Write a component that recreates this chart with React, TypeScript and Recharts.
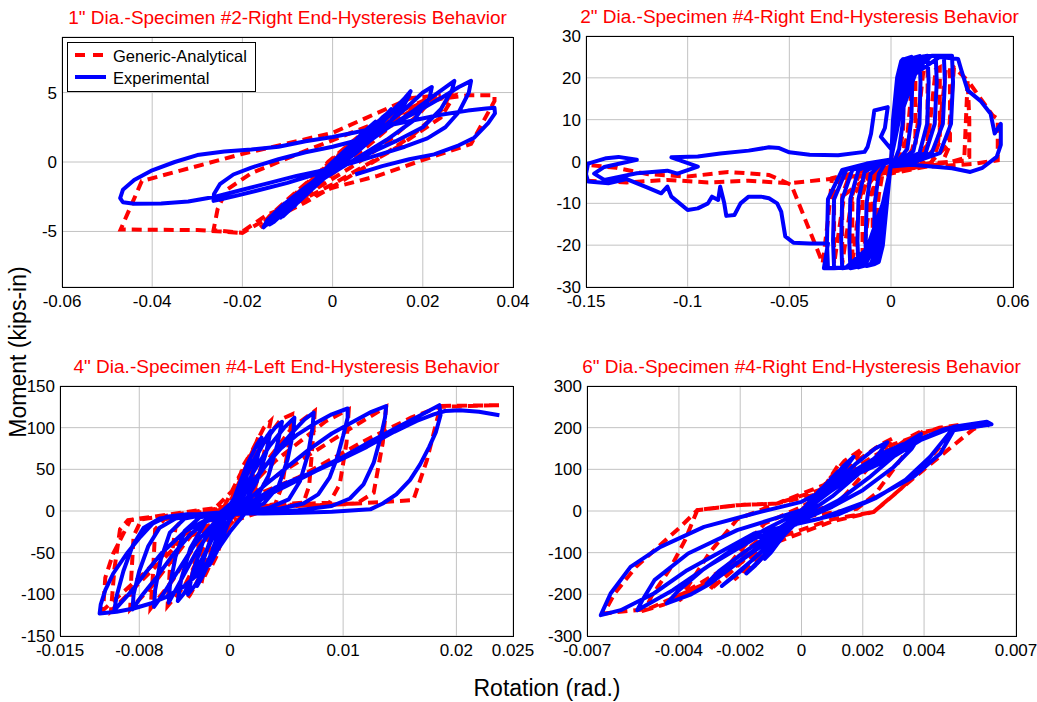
import React from 'react';
import { LineChart, Line, XAxis, YAxis, CartesianGrid } from 'recharts';

type Pt = [number, number];

// 1" dia. - specimen #2 - right end
const p1XTicks = [-0.06, -0.04, -0.02, 0, 0.02, 0.04];
const p1YTicks = [-5, 0, 5];
const p1Analytical: Pt[] = [
  [0, 0], [0.003, 1.0], [0.005, 1.6], [0.004, 1.0], [0.001, -0.2], [-0.002, -1.0], [-0.005, -1.9], [-0.004, -1.2], [-0.001, 0.0],
  [0.003, 1.1], [0.006, 1.9], [0.008, 2.4], [0.007, 1.7], [0.003, 0.4], [-0.002, -1.0], [-0.006, -2.2], [-0.008, -2.8], [-0.007, -2.0], [-0.003, -0.8],
  [0.002, 0.8], [0.007, 2.1], [0.011, 3.0], [0.0095, 2.2], [0.005, 0.9], [-0.001, -0.8], [-0.007, -2.5], [-0.010, -3.3], [-0.009, -2.5], [-0.004, -1.0],
  [0.003, 1.0], [0.009, 2.5], [0.014, 3.5], [0.016, 3.9], [0.014, 2.9], [0.008, 1.2], [0.001, -0.6], [-0.006, -2.3], [-0.011, -3.7], [-0.013, -4.2], [-0.011, -3.2], [-0.006, -1.7],
  [0.002, 0.4], [0.010, 2.4], [0.016, 3.7], [0.020, 4.3], [0.022, 4.5], [0.019, 3.4], [0.012, 1.4], [0.004, -0.4], [-0.004, -2.0], [-0.011, -3.6], [-0.015, -4.6], [-0.0135, -3.8], [-0.009, -2.5], [-0.002, -0.8],
  [0.006, 1.2], [0.014, 3.0], [0.021, 4.3], [0.026, 4.8], [0.024, 3.7], [0.018, 2.0], [0.010, 0.2], [0.002, -1.4], [-0.006, -2.9], [-0.012, -3.9], [-0.016, -4.7], [-0.014, -3.9], [-0.010, -2.7], [-0.004, -1.0],
  [0.004, 0.8], [0.012, 2.6], [0.020, 4.2], [0.027, 4.8], [0.024, 3.2], [0.014, 1.0], [0.000, -1.6], [-0.012, -3.6], [-0.020, -5.1], [-0.0264, -4.9],
  [-0.0255, -3.4], [-0.0235, -2.0], [-0.018, -0.8], [-0.006, 0.8], [0.008, 2.6], [0.020, 4.4], [0.030, 4.8], [0.0359, 4.8],
  [0.0359, 4.4], [0.0307, 1.3], [0.0196, 0.1], [0.010, -1.0], [0.000, -1.85], [-0.0145, -3.8], [-0.0204, -5.1], [-0.030, -4.9], [-0.047, -4.86],
  [-0.0423, -1.37], [-0.0204, 0.55], [0.000, 2.1], [0.0173, 4.6], [0.024, 4.8],
];
const p1Experimental: Pt[] = [
  [0, 0], [0.002, 0.6], [0.004, 1.2], [0.005, 1.5], [0.004, 0.9], [0.001, -0.2], [-0.002, -1.0], [-0.004, -1.7], [-0.005, -2.0], [-0.004, -1.5], [-0.001, -0.5],
  [0.002, 0.5], [0.004, 1.1], [0.0055, 1.6], [0.0045, 1.0], [0.001, -0.1], [-0.002, -1.1], [-0.0045, -1.8], [-0.0055, -2.1], [-0.004, -1.4], [-0.001, -0.4],
  [0.003, 0.8], [0.006, 1.7], [0.008, 2.4], [0.009, 2.7], [0.008, 2.0], [0.005, 0.9], [0.001, -0.3], [-0.003, -1.4], [-0.006, -2.3], [-0.008, -3.0], [-0.0085, -3.2], [-0.007, -2.4], [-0.004, -1.3], [0, 0.0],
  [0.004, 1.2], [0.007, 2.2], [0.0095, 2.9], [0.0085, 2.2], [0.005, 1.0], [0.001, -0.4], [-0.003, -1.5], [-0.007, -2.7], [-0.009, -3.3], [-0.0075, -2.6], [-0.004, -1.4], [0, -0.1],
  [0.004, 1.0], [0.008, 2.2], [0.011, 3.2], [0.0125, 3.6], [0.011, 2.8], [0.007, 1.4], [0.003, 0.2], [-0.002, -1.1], [-0.006, -2.3], [-0.009, -3.3], [-0.011, -3.9], [-0.010, -3.3], [-0.007, -2.3], [-0.003, -1.0],
  [0.002, 0.4], [0.007, 1.9], [0.011, 3.1], [0.013, 3.8], [0.0115, 3.0], [0.008, 1.6], [0.003, 0.1], [-0.003, -1.4], [-0.008, -3.0], [-0.0115, -4.0], [-0.010, -3.2], [-0.006, -2.0], [-0.002, -0.8],
  [0.004, 0.8], [0.009, 2.3], [0.013, 3.6], [0.016, 4.6], [0.0173, 5.1], [0.016, 4.2], [0.012, 2.6], [0.007, 1.2], [0.002, -0.1], [-0.004, -1.6], [-0.009, -3.1], [-0.013, -4.3], [-0.014, -4.5], [-0.012, -3.8], [-0.008, -2.5], [-0.003, -1.0],
  [0.003, 0.6], [0.009, 2.2], [0.014, 3.8], [0.017, 4.8], [0.0155, 3.9], [0.011, 2.3], [0.005, 0.6], [-0.002, -1.1], [-0.008, -2.9], [-0.0135, -4.4], [-0.0125, -3.9], [-0.008, -2.6], [-0.003, -1.1],
  [0.004, 0.6], [0.010, 2.2], [0.016, 3.8], [0.020, 5.0], [0.022, 5.4], [0.0215, 4.6], [0.018, 3.0], [0.012, 1.6], [0.006, 0.4], [0.000, -0.8], [-0.006, -2.0], [-0.011, -3.3], [-0.014, -4.3], [-0.0153, -4.7], [-0.0145, -4.2], [-0.011, -3.1], [-0.006, -1.8], [0, -0.4],
  [0.006, 1.0], [0.012, 2.4], [0.018, 3.7], [0.023, 4.9], [0.026, 5.6], [0.027, 5.84], [0.0265, 5.2], [0.024, 3.8], [0.020, 2.5], [0.014, 1.5], [0.008, 0.6], [0.002, -0.3], [-0.004, -0.9], [-0.010, -1.5],
  [-0.016, -2.0], [-0.021, -2.4], [-0.025, -2.7], [-0.0264, -2.8], [-0.0263, -2.3], [-0.025, -1.6], [-0.022, -0.9], [-0.018, -0.4], [-0.012, 0.2], [-0.006, 0.7], [0.000, 1.1],
  [0.006, 1.6], [0.012, 2.5], [0.018, 3.5], [0.024, 4.6], [0.028, 5.4], [0.0307, 5.84], [0.0302, 5.0], [0.028, 3.6], [0.025, 2.5], [0.021, 1.7], [0.016, 1.1], [0.010, 0.5], [0.004, -0.1], [-0.002, -0.6],
  [-0.008, -1.0], [-0.014, -1.5], [-0.020, -2.0], [-0.026, -2.5], [-0.032, -2.85], [-0.038, -2.98], [-0.044, -3.0], [-0.0465, -2.9], [-0.0471, -2.6], [-0.0465, -2.0], [-0.044, -1.3], [-0.040, -0.6],
  [-0.035, 0.0], [-0.030, 0.5], [-0.024, 0.75], [-0.018, 0.9], [-0.012, 1.1], [-0.006, 1.5],
  [0.000, 1.8], [0.006, 2.2], [0.012, 2.6], [0.018, 3.0], [0.024, 3.4], [0.030, 3.7], [0.034, 3.85], [0.0359, 3.9], [0.036, 3.5], [0.0345, 2.8], [0.0314, 1.75], [0.028, 1.2], [0.0225, 0.55],
  [0.017, 0.2], [0.011, -0.3], [0.005, -0.9],
];

// 2" dia. - specimen #4 - right end
const p2XTicks = [-0.15, -0.1, -0.05, 0, 0.06];
const p2YTicks = [-30, -20, -10, 0, 10, 20, 30];
const p2Analytical: Pt[] = [
  [0, 0], [0.002, 8], [0.004, 18], [0.006, 22], [0.006, 8], [0.004, 0.5], [-0.004, -2.5], [-0.006, -8], [-0.009, -23], [-0.009, -8], [-0.006, -2],
  [0.004, -0.5], [0.008, 6], [0.011, 22], [0.012, 22.5], [0.012, 6], [0.009, 0], [-0.006, -3], [-0.010, -8], [-0.014, -24], [-0.014, -8], [-0.011, -3],
  [0.006, -0.5], [0.012, 4], [0.016, 22], [0.018, 22.5], [0.018, 5], [0.014, 0], [-0.008, -3.5], [-0.015, -8], [-0.019, -24.5], [-0.019, -8], [-0.016, -3.5],
  [0.010, -0.8], [0.018, 4], [0.022, 22], [0.024, 22.5], [0.024, 5], [0.020, -0.3], [-0.010, -3.5], [-0.019, -8], [-0.024, -24.5], [-0.024, -8], [-0.021, -4],
  [0.014, -1], [0.023, 4], [0.027, 22], [0.029, 22.5], [0.029, 4], [0.025, -0.5], [-0.012, -4], [-0.023, -8], [-0.028, -24.5], [-0.028, -8], [-0.025, -4],
  [0.018, -1], [0.028, 4], [0.031, 22.5], [0.0377, 19.4], [0.0385, 10], [0.0385, 1.1], [0.030, 0], [0.012, -1.5], [-0.012, -3.5], [-0.030, -4.2],
  [-0.050, -5.2], [-0.070, -4.6], [-0.090, -5.0], [-0.110, -4.4], [-0.130, -5.0], [-0.150, -4.6], [-0.150, -0.8], [-0.135, -1.5], [-0.120, -3.0],
  [-0.100, -3.6], [-0.080, -2.5], [-0.060, -3.2], [-0.049, -5.6],
  [-0.0336, -24.3], [-0.031, -14], [-0.029, -4], [-0.010, -1.8], [0.020, -0.4], [0.036, 0.2], [0.0377, 19.4], [0.050, 11], [0.0525, 10.2], [0.0525, 0.3], [0.040, -0.6], [0.020, -1.2],
];
const p2Experimental: Pt[] = [
  [0, 0], [0.001, 10], [0.003, 20], [0.005, 24], [0.006, 24.5], [0.0065, 20], [0.006, 10], [0.004, 3], [0.002, 0.5], [0, 0], [-0.002, -10], [-0.004, -20], [-0.006, -24], [-0.008, -24.5],
  [-0.0085, -20], [-0.008, -10], [-0.006, -3], [-0.003, -0.5],
  [0, 0], [0.001, 9], [0.003, 19], [0.007, 24.5], [0.010, 25], [0.0105, 20], [0.010, 10], [0.008, 3], [0.004, 0.5], [0, 0], [-0.002, -9], [-0.004, -19], [-0.008, -24.5], [-0.012, -25],
  [-0.0125, -20], [-0.012, -10], [-0.010, -3], [-0.005, -0.5],
  [0, 0], [0.0015, 10], [0.004, 20], [0.009, 24.5], [0.014, 25.2], [0.0145, 19], [0.014, 9], [0.011, 2.5], [0.005, 0.5], [0, -0.5], [-0.002, -9], [-0.005, -19], [-0.010, -24.5], [-0.016, -25.3],
  [-0.0165, -19], [-0.016, -9], [-0.013, -2.5], [-0.006, -0.5],
  [0, 0.5], [0.002, 10], [0.005, 20], [0.012, 24.8], [0.018, 25.3], [0.0185, 19], [0.0178, 9], [0.014, 2], [0.007, 0.5], [0, -0.5], [-0.003, -9], [-0.006, -19], [-0.013, -24.8], [-0.020, -25.5],
  [-0.0205, -19], [-0.020, -9], [-0.016, -2], [-0.008, -0.5],
  [0, 0.5], [0.002, 10], [0.006, 20], [0.014, 25], [0.022, 25.3], [0.0225, 19], [0.0215, 9], [0.017, 2], [0.008, 0.3], [0, -0.5], [-0.003, -9], [-0.007, -19], [-0.015, -25], [-0.024, -25.5],
  [-0.0245, -19], [-0.024, -9], [-0.019, -2], [-0.009, -0.5],
  [0, 0.5], [0.003, 10], [0.008, 20], [0.017, 25.2], [0.026, 25.3], [0.0265, 19], [0.0255, 9], [0.020, 2], [0.010, 0], [0, -0.8], [-0.003, -9], [-0.008, -19], [-0.018, -25.2], [-0.028, -25.5],
  [-0.0285, -19], [-0.028, -9], [-0.022, -2], [-0.010, -0.5],
  [0, 0.5], [0.003, 10], [0.010, 21], [0.020, 25.3], [0.030, 25.3], [0.0305, 19], [0.0295, 9], [0.024, 2], [0.012, 0], [0, -1], [-0.004, -10], [-0.010, -20], [-0.020, -25.3], [-0.031, -25.5],
  [-0.0315, -19], [-0.031, -9], [-0.024, -2], [-0.012, -0.5],
  [0, 0.5], [0.004, 10], [0.012, 21], [0.024, 25], [0.033, 24.5], [0.0345, 22], [0.0377, 17], [0.044, 14.5], [0.049, 11.4], [0.051, 6.7], [0.054, 9], [0.054, 4], [0.052, 1.1],
  [0.045, -1.5], [0.039, -2.5], [0.030, -1.6], [0.023, -1.3], [0.010, -0.8], [0.000, -1.2],
  [-0.004, -10], [-0.012, -21], [-0.022, -25.3], [-0.033, -25.5], [-0.031, -19.6], [-0.040, -19.6], [-0.048, -19.4], [-0.052, -17.9], [-0.054, -12], [-0.056, -10],
  [-0.060, -8.8], [-0.064, -8.4], [-0.070, -8.4], [-0.074, -10], [-0.077, -12.8], [-0.081, -13], [-0.082, -10], [-0.084, -6], [-0.085, -9.2], [-0.088, -8.4],
  [-0.090, -10], [-0.095, -11.2], [-0.100, -11.6], [-0.105, -9.6], [-0.108, -8.4], [-0.110, -6], [-0.113, -7.6], [-0.120, -6.2], [-0.130, -4.2], [-0.139, -5.2],
  [-0.149, -4.8], [-0.150, -3], [-0.149, -0.5], [-0.140, 0.8], [-0.134, 1.1], [-0.125, 0.4], [-0.141, -1.3], [-0.146, -2.9], [-0.141, -4.4], [-0.125, -2.8],
  [-0.110, -2.2], [-0.105, -2.9], [-0.095, -1.2], [-0.108, 1.0], [-0.095, 1.2], [-0.084, 1.9], [-0.070, 2.6], [-0.060, 3.4], [-0.055, 3.2], [-0.050, 2.2],
  [-0.040, 1.6], [-0.026, 1.5], [-0.013, 2.3], [-0.0115, 3.5], [-0.0098, 6.7], [-0.0082, 12.2], [-0.0016, 13], [-0.003, 8], [-0.005, 5.9], [0.000, 3],
  [0.002, 10], [0.004, 20],
];

// 4" dia. - specimen #4 - left end
const p3XTicks = [-0.015, -0.008, 0, 0.01, 0.02, 0.025];
const p3YTicks = [-150, -100, -50, 0, 50, 100, 150];
const p3Analytical: Pt[] = [
  [0, 0], [0.0006, 30], [0.0012, 55], [0.0016, 64], [0.0010, 30], [0.0004, 2], [-0.0006, -30], [-0.0012, -55], [-0.0016, -66], [-0.0010, -30], [-0.0004, -2],
  [0.001, 40], [0.002, 72], [0.0025, 88], [0.0018, 40], [0.0008, 2], [-0.001, -40], [-0.002, -72], [-0.0025, -86], [-0.0018, -40], [-0.0008, -3],
  [0.0015, 60], [0.003, 100], [0.0036, 108], [0.0028, 55], [0.0018, 8], [-0.001, -30], [-0.0025, -75], [-0.0035, -100], [-0.0038, -106], [-0.0030, -55], [-0.0020, -6],
  [0.001, 35], [0.003, 82], [0.0045, 110], [0.0055, 116], [0.0052, 80], [0.0046, 30], [0.0040, 8], [0.000, 2], [-0.002, -35], [-0.004, -90], [-0.0055, -114],
  [-0.0053, -70], [-0.0048, -20], [-0.0040, -8], [0, 4],
  [0.003, 55], [0.0055, 100], [0.0075, 120], [0.0073, 80], [0.0070, 30], [0.0065, 10], [0.002, 5], [-0.002, -18], [-0.005, -82], [-0.0070, -117], [-0.0068, -78],
  [-0.0066, -22], [-0.0058, -10], [0, 5],
  [0.004, 60], [0.0085, 108], [0.0105, 122], [0.0103, 82], [0.0097, 32], [0.0088, 10], [0.003, 6], [-0.003, -22], [-0.007, -92], [-0.0088, -118], [-0.0087, -78],
  [-0.0085, -30], [-0.0078, -10], [0, 5],
  [0.005, 50], [0.011, 102], [0.0138, 125], [0.0135, 82], [0.0127, 22], [0.0112, 9], [0.004, 5], [-0.004, -32], [-0.009, -100], [-0.0105, -120], [-0.0102, -70],
  [-0.0097, -22], [-0.0090, -11], [0, 6],
  [0.006, 40], [0.012, 85], [0.016, 112], [0.0185, 125], [0.0238, 127], [0.0186, 126], [0.0174, 61], [0.0162, 13], [0.010, 8], [0.004, 6], [0, 0],
  [-0.004, -28], [-0.0080, -80], [-0.0112, -119], [-0.0110, -80], [-0.0103, -51], [-0.0088, -11], [-0.005, -5], [0, 2],
];
const p3Experimental: Pt[] = [
  [0, 0], [0.0005, 20], [0.001, 38], [0.0015, 55], [0.0018, 62], [0.0014, 40], [0.0008, 15], [0, -10], [-0.0006, -30], [-0.0012, -50], [-0.0018, -65], [-0.0015, -45], [-0.0008, -20], [0, 2],
  [0.0008, 30], [0.0016, 58], [0.0024, 80], [0.0028, 88], [0.0024, 62], [0.0016, 28], [0.0006, 2], [-0.0006, -25], [-0.0016, -55], [-0.0024, -78], [-0.0029, -90], [-0.0025, -65], [-0.0016, -30], [-0.0006, -5],
  [0.001, 28], [0.002, 58], [0.003, 84], [0.0036, 96], [0.0032, 70], [0.0024, 36], [0.0012, 8], [0, -10], [-0.001, -32], [-0.002, -62], [-0.003, -88], [-0.0037, -100], [-0.0033, -75], [-0.0024, -38], [-0.0012, -10], [0, 0],
  [0.0015, 45], [0.003, 82], [0.004, 100], [0.0046, 107], [0.0042, 80], [0.0034, 42], [0.0022, 12], [0.001, 0], [-0.0005, -10], [-0.0015, -32], [-0.003, -72], [-0.004, -98], [-0.0046, -108],
  [-0.0043, -82], [-0.0035, -45], [-0.0022, -14], [-0.001, -4],
  [0.001, 20], [0.002, 45], [0.0035, 78], [0.0048, 100], [0.0057, 112], [0.0056, 95], [0.0051, 62], [0.0043, 30], [0.003, 9], [0.0015, 0], [0, -4], [-0.0015, -20], [-0.003, -50], [-0.0044, -85],
  [-0.0054, -110], [-0.0053, -90], [-0.0048, -55], [-0.0040, -24], [-0.0027, -8], [-0.001, -3],
  [0.001, 15], [0.0025, 42], [0.004, 70], [0.0055, 94], [0.0066, 110], [0.0074, 118], [0.0073, 100], [0.0069, 68], [0.0062, 36], [0.0052, 14], [0.0035, 4], [0.0015, -1], [0, -5],
  [-0.0015, -16], [-0.003, -38], [-0.0045, -70], [-0.0058, -98], [-0.0067, -115], [-0.0066, -95], [-0.0061, -58], [-0.0053, -26], [-0.0040, -9], [-0.002, -4], [0, -2],
  [0.001, 15], [0.002, 35], [0.003, 52], [0.0045, 75], [0.006, 92], [0.0075, 105], [0.009, 116], [0.0104, 123], [0.0104, 112], [0.0100, 90], [0.0095, 65], [0.0088, 40], [0.0078, 20],
  [0.0065, 9], [0.0045, 3], [0.002, -1], [0, -4], [-0.002, -12], [-0.0035, -28], [-0.005, -52], [-0.0065, -80], [-0.0078, -102], [-0.0086, -118], [-0.0085, -100], [-0.0080, -72],
  [-0.0072, -42], [-0.0062, -20], [-0.0048, -9], [-0.0025, -4], [0, -1],
  [0.0015, 12], [0.003, 30], [0.005, 52], [0.007, 74], [0.009, 93], [0.011, 108], [0.0125, 119], [0.0138, 126], [0.0137, 112], [0.0133, 88], [0.0127, 58], [0.0118, 32], [0.0106, 15],
  [0.009, 6], [0.006, 1], [0.003, -2], [0, -4], [-0.002, -10], [-0.004, -25], [-0.006, -50], [-0.0075, -75], [-0.0088, -98], [-0.0098, -113], [-0.0102, -119], [-0.0100, -102],
  [-0.0094, -72], [-0.0086, -42], [-0.0076, -20], [-0.0062, -9], [-0.004, -5], [-0.002, -3], [0, -1],
  [0.002, 12], [0.004, 28], [0.007, 45], [0.010, 65], [0.0125, 84], [0.015, 102], [0.017, 116], [0.0185, 127], [0.0186, 115], [0.0182, 95], [0.0176, 77], [0.0168, 56], [0.0159, 37],
  [0.0147, 20], [0.0135, 9], [0.0124, 2], [0.009, -1], [0.0062, -2], [0.003, -3], [0, -3], [-0.0038, -4], [-0.0056, -7], [-0.0068, -15], [-0.0079, -31], [-0.0091, -51],
  [-0.0103, -75], [-0.0110, -95], [-0.0114, -112], [-0.0115, -123], [-0.010, -121], [-0.0085, -117], [-0.007, -111], [-0.0056, -103], [-0.0041, -91], [-0.003, -78],
  [-0.002, -62], [-0.001, -45], [0, -25], [0.0015, 0], [0.0032, 18], [0.005, 30], [0.0076, 48], [0.010, 63], [0.0121, 77], [0.0145, 95], [0.0165, 108], [0.018, 116],
  [0.019, 120], [0.0203, 121], [0.022, 119], [0.0238, 115],
];

// 6" dia. - specimen #4 - right end
const p4XTicks = [-0.007, -0.004, -0.002, 0, 0.002, 0.004, 0.007];
const p4YTicks = [-300, -200, -100, 0, 100, 200, 300];
const p4Analytical: Pt[] = [
  [0, 0], [0.0004, 30], [0.0007, 55], [0.0005, 30], [0, -8], [-0.0004, -35], [-0.0007, -60], [-0.0005, -35], [0, 0],
  [0.0006, 45], [0.0010, 80], [0.0007, 45], [0, -15], [-0.0006, -60], [-0.0010, -95], [-0.0007, -60], [0, 0],
  [0.0008, 65], [0.0012, 110], [0.0010, 80], [0.0004, 20], [-0.0005, -40], [-0.0012, -105], [-0.0015, -130], [-0.0011, -95], [-0.0004, -30],
  [0.0006, 50], [0.0014, 120], [0.0020, 150], [0.0017, 120], [0.0009, 50], [0, -10], [-0.0010, -75], [-0.0018, -140], [-0.0022, -165], [-0.0017, -125], [-0.0008, -60],
  [0.0004, 30], [0.0016, 110], [0.0026, 160], [0.0030, 175], [0.0026, 140], [0.0018, 70], [0.0012, 20], [0.0002, -5], [-0.0010, -55], [-0.0022, -140],
  [-0.0030, -190], [-0.0027, -160], [-0.0020, -95], [-0.0012, -30],
  [0.0000, 10], [0.0012, 60], [0.0026, 130], [0.0036, 180], [0.0040, 195], [0.0036, 160], [0.0030, 100], [0.0024, 40], [0.0018, 5], [0.0000, -15],
  [-0.0014, -70], [-0.0030, -165], [-0.0040, -215], [-0.0037, -180], [-0.0030, -100], [-0.0021, -20], [-0.0008, 18],
  [0.0010, 70], [0.0030, 160], [0.0045, 200], [0.0050, 205], [0.0047, 170], [0.0040, 110], [0.0032, 50], [0.00236, -2], [0.0010, -20], [-0.0010, -70],
  [-0.0030, -160], [-0.0045, -225], [-0.0051, -238], [-0.0049, -205], [-0.0043, -140], [-0.0038, -70], [-0.0034, 2], [-0.0021, 14], [-0.0008, 18],
  [0.0010, 60], [0.0028, 145], [0.0040, 190], [0.0050, 203], [0.0059, 206], [0.0056, 196], [0.0050, 160], [0.0040, 100], [0.0028, 26], [0.00236, -2],
  [0.0010, -25], [-0.0010, -80], [-0.0030, -170], [-0.0050, -235], [-0.00645, -246], [-0.0061, -198], [-0.0054, -134], [-0.00395, -38], [-0.0034, 2],
  [-0.0021, 14], [-0.0008, 18], [0.0005, 40],
];
const p4Experimental: Pt[] = [
  [0, 0], [0.0003, 25], [0.0006, 50], [0.0008, 62], [0.0005, 35], [0, -5], [-0.0004, -40], [-0.0007, -65], [-0.0009, -78], [-0.0006, -50], [0, -5],
  [0.0005, 40], [0.0010, 80], [0.0012, 95], [0.0008, 55], [0, -10], [-0.0006, -60], [-0.0010, -100], [-0.0012, -115], [-0.0008, -80], [0, -5],
  [0.0008, 60], [0.0014, 110], [0.0017, 130], [0.0014, 100], [0.0008, 45], [0, -15], [-0.0008, -75], [-0.0015, -130], [-0.0018, -150], [-0.0014, -120], [-0.0006, -60], [0, -10],
  [0.0010, 60], [0.0018, 115], [0.0024, 150], [0.0028, 165], [0.0025, 135], [0.0018, 85], [0.0010, 35], [0, -15], [-0.0010, -75], [-0.0020, -145], [-0.0026, -180],
  [-0.0022, -155], [-0.0014, -105], [-0.0006, -55], [0, -15],
  [0.0008, 50], [0.0018, 100], [0.0027, 140], [0.0033, 160], [0.0030, 130], [0.0022, 80], [0.0012, 25], [0, -20], [-0.0012, -75], [-0.0022, -130], [-0.0031, -175],
  [-0.0027, -145], [-0.0018, -95], [-0.0008, -45], [0, -5],
  [0.0010, 50], [0.0020, 100], [0.0030, 145], [0.0036, 172], [0.0039, 185], [0.0036, 150], [0.0030, 105], [0.0020, 50], [0.0010, 10], [0, -22], [-0.0010, -68],
  [-0.0020, -120], [-0.0030, -175], [-0.0036, -200], [-0.0044, -222], [-0.0040, -190], [-0.0032, -140], [-0.0022, -90], [-0.0012, -45], [0, 0],
  [0.0012, 60], [0.0024, 115], [0.0036, 165], [0.0046, 195], [0.0050, 202], [0.0048, 185], [0.0042, 130], [0.0034, 75], [0.0024, 30], [0.0012, -8], [0, -28],
  [-0.0015, -65], [-0.0030, -130], [-0.0042, -190], [-0.00536, -238], [-0.0052, -215], [-0.0048, -166], [-0.0037, -102], [-0.0021, -46], [0, 2],
  [0.00116, 66], [0.0028, 122], [0.00388, 170], [0.00497, 202], [0.00605, 214], [0.0062, 208], [0.00497, 194], [0.00453, 138], [0.00366, 82], [0.00225, 26],
  [0.00062, -18], [-0.00155, -54], [-0.00373, -142], [-0.00482, -198], [-0.0059, -238], [-0.00655, -250], [-0.00623, -198], [-0.00558, -134], [-0.0046, -86],
  [-0.00318, -38], [-0.00155, -6], [0, 22], [0.00116, 66], [0.0028, 122], [0.00388, 170], [0.00497, 202], [0.00605, 214], [0.00616, 203],
];

const FONT = '"Liberation Sans", Arial, Helvetica, sans-serif';
const RED = '#ff0000';
const BLUE = '#0000ff';

type Box = { left: number; top: number; width: number; height: number };

const boxes: Box[] = [
  { left: 62, top: 37, width: 451, height: 250 },
  { left: 586, top: 36, width: 427, height: 251 },
  { left: 60, top: 386, width: 453, height: 250 },
  { left: 587, top: 386, width: 429, height: 250 },
];

const titles = [
  '1" Dia.-Specimen #2-Right End-Hysteresis Behavior',
  '2" Dia.-Specimen #4-Right End-Hysteresis Behavior',
  '4" Dia.-Specimen #4-Left End-Hysteresis Behavior',
  '6" Dia.-Specimen #4-Right End-Hysteresis Behavior',
];

const toRows = (pts: Pt[]) => pts.map(([x, y]) => ({ x, y }));

interface PanelProps {
  box: Box;
  xDomain: [number, number];
  xTicks: number[];
  yDomain: [number, number];
  yTicks: number[];
  analytical: Pt[];
  experimental: Pt[];
}

function Panel({ box, xDomain, xTicks, yDomain, yTicks, analytical, experimental }: PanelProps) {
  const yw = 60;
  const rm = 26;
  const tm = 12;
  const xh = 34;
  const tick = { fill: '#000', fontSize: 17, fontFamily: FONT };
  return (
    <div style={{ position: 'absolute', left: box.left - yw, top: box.top - tm }}>
      <LineChart
        width={box.width + yw + rm}
        height={box.height + tm + xh}
        margin={{ top: tm, right: rm, bottom: 0, left: 0 }}
      >
        <CartesianGrid stroke="#c2c2c2" strokeWidth={1} />
        <XAxis
          type="number"
          dataKey="x"
          domain={xDomain}
          ticks={xTicks}
          interval={0}
          allowDataOverflow
          height={xh}
          axisLine={false}
          tickLine={false}
          tickSize={0}
          tickMargin={8}
          tick={tick}
        />
        <YAxis
          type="number"
          dataKey="y"
          domain={yDomain}
          ticks={yTicks}
          interval={0}
          allowDataOverflow
          width={yw}
          axisLine={false}
          tickLine={false}
          tickSize={0}
          tickMargin={5}
          tick={tick}
        />
        <Line
          data={toRows(analytical)}
          dataKey="y"
          type="linear"
          stroke={RED}
          strokeWidth={4}
          strokeDasharray="10 6"
          dot={false}
          activeDot={false}
          isAnimationActive={false}
        />
        <Line
          data={toRows(experimental)}
          dataKey="y"
          type="linear"
          stroke={BLUE}
          strokeWidth={4}
          strokeLinejoin="round"
          dot={false}
          activeDot={false}
          isAnimationActive={false}
        />
      </LineChart>
    </div>
  );
}

export default function App() {
  return (
    <div style={{ position: 'absolute', left: 0, top: 0, width: 1037, height: 702, background: '#fff' }}>
      <Panel box={boxes[0]} xDomain={[-0.06, 0.04]} xTicks={p1XTicks} yDomain={[-9, 9]} yTicks={p1YTicks}
        analytical={p1Analytical} experimental={p1Experimental} />
      <Panel box={boxes[1]} xDomain={[-0.15, 0.06]} xTicks={p2XTicks} yDomain={[-30, 30]} yTicks={p2YTicks}
        analytical={p2Analytical} experimental={p2Experimental} />
      <Panel box={boxes[2]} xDomain={[-0.015, 0.025]} xTicks={p3XTicks} yDomain={[-150, 150]} yTicks={p3YTicks}
        analytical={p3Analytical} experimental={p3Experimental} />
      <Panel box={boxes[3]} xDomain={[-0.007, 0.007]} xTicks={p4XTicks} yDomain={[-300, 300]} yTicks={p4YTicks}
        analytical={p4Analytical} experimental={p4Experimental} />

      <svg width={1037} height={702} style={{ position: 'absolute', left: 0, top: 0, pointerEvents: 'none' }}>
        {boxes.map((b, i) => (
          <g key={i}>
            <rect x={b.left + 0.5} y={b.top + 0.5} width={b.width} height={b.height} fill="none" stroke="#000" strokeWidth={1} />
            <text x={b.left + b.width / 2} y={b.top - 13} textAnchor="middle" fill={RED} fontSize={19} fontFamily={FONT}>
              {titles[i]}
            </text>
          </g>
        ))}
        <text x={547} y={696} textAnchor="middle" fontSize={23} fontFamily={FONT} fill="#000">
          Rotation (rad.)
        </text>
        <text x={26} y={352} transform="rotate(-90 26 352)" textAnchor="middle" fontSize={23} fontFamily={FONT} fill="#000">
          Moment (kips-in)
        </text>
        <g>
          <rect x={67.5} y={42.5} width={188} height={49} fill="#fff" stroke="#000" strokeWidth={1} />
          <line x1={75} y1={55} x2={106} y2={55} stroke={RED} strokeWidth={4} strokeDasharray="10 8" />
          <line x1={75} y1={77} x2={106} y2={77} stroke={BLUE} strokeWidth={4} />
          <text x={113} y={62} fontSize={16.5} fontFamily={FONT} fill="#000">Generic-Analytical</text>
          <text x={113} y={84} fontSize={16.5} fontFamily={FONT} fill="#000">Experimental</text>
        </g>
      </svg>
    </div>
  );
}
